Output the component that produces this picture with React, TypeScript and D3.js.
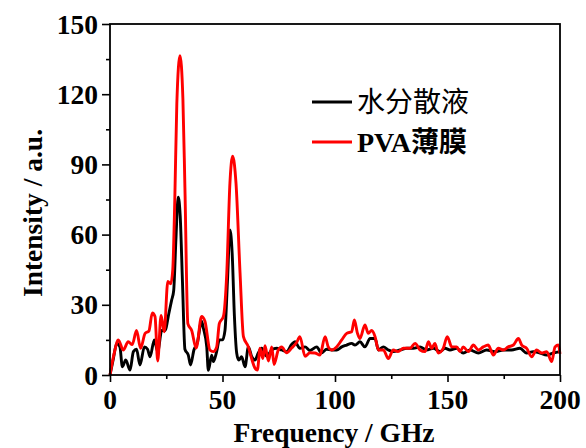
import React, { useEffect, useRef } from 'react'
import * as d3 from 'd3'

// 水分散液 (black)
const waterFreq = [0, 1.5, 3, 4.4, 5.5, 7, 8.9, 10.4, 11.8, 13.3, 15.3, 16.7, 17.8, 19.7, 21.2, 23, 24.4, 26.2, 27.4, 28.3, 29.3, 30.3, 31.2, 32.2, 33.3, 34.8, 35.8, 37.3, 38.8, 40.7, 41.5, 43, 43.7, 45.2, 45.9, 47.4, 48.6, 50, 51.1, 52.2, 53.3, 54.3, 55.3, 56.3, 57.2, 58.5, 60, 61.5, 63, 64.4, 65.9, 67.4, 69.6, 71.9, 74, 76.3, 78.5, 80.7, 82.2, 84.4, 86.7, 88.9, 91.9, 94, 96.3, 98.5, 100.7, 103, 105.2, 107.4, 108.9, 111.1, 113.3, 115.6, 117.8, 119.3, 121.5, 123.7, 125.9, 128.9, 131.9, 134.8, 137.8, 140.7, 143.7, 146.7, 148.9, 151.1, 154.1, 157, 160, 163.7, 167.4, 171.1, 174.8, 178.5, 182.2, 185.2, 188.1, 191.1, 194.1, 197, 200]
const waterInt = [0, 7, 13.5, 12, 3.5, 6.4, 2.1, 10, 11, 4.3, 12, 11, 7.8, 15, 10, 19, 19, 26.5, 32, 36, 58, 76, 68, 40, 11, 8.5, 4.3, 10.7, 13.7, 23, 20, 12, 2, 8.5, 5.7, 10, 15, 15, 19, 40, 62, 52, 25, 9.4, 6.4, 7.8, 3.5, 12, 7.8, 6.4, 9.4, 11.4, 8, 10.7, 11.4, 10.7, 10, 13, 14.2, 11.4, 12, 10.5, 12, 9.4, 11, 10.7, 10.7, 12, 12.8, 13.5, 12.8, 14.2, 12, 15.6, 15.6, 10.7, 12, 10.7, 10, 10.7, 11.4, 11.4, 12, 10.7, 11.4, 10, 11.4, 10.7, 11.4, 9.4, 10.7, 9.4, 10.7, 10, 10.7, 10.7, 11.4, 9.4, 10, 9.4, 8.5, 9.4, 10]

// PVA薄膜 (red)
const pvaFreq = [0, 1.8, 3.7, 5.9, 8.1, 9.9, 11.8, 13.6, 15.6, 17.3, 18.8, 20, 21.2, 22.7, 24.1, 25.7, 27, 27.9, 28.8, 29.7, 31.1, 32.4, 33.3, 34.6, 36.3, 38.3, 40.7, 42.2, 44.4, 45.9, 47.4, 48.6, 50.4, 51.9, 53.3, 54.5, 56, 57.8, 59.3, 61.5, 62.8, 64.4, 65.5, 66.7, 67.9, 68.9, 70.4, 71.9, 72.9, 74.8, 76.3, 78.5, 80.7, 83, 84.4, 86.7, 88.9, 91.1, 93.3, 95.6, 97, 98.5, 100.7, 103, 105.2, 107.4, 108.6, 110, 111.1, 113.3, 114.8, 116.3, 117.8, 119.3, 121.5, 123.7, 125.9, 128, 130.4, 133.3, 135.6, 137.8, 140, 141.5, 143, 144.4, 145.9, 148.1, 149.9, 151.9, 154.1, 155.6, 157, 159.3, 161.5, 163.7, 165.9, 168.1, 170.4, 172.6, 174.8, 177, 179.3, 181.5, 183, 185.2, 187.4, 189.6, 191.9, 194.1, 196.3, 197.8, 199.3, 200]
const pvaInt = [0, 9, 15, 10.7, 14.2, 13, 19, 11.4, 17.8, 18.8, 26.5, 25, 6, 25.5, 18.5, 40, 39, 45, 75, 116, 136.5, 118, 80, 22, 19, 11.5, 25, 23, 10.7, 10, 12, 22, 25, 43.6, 82, 93.5, 82, 43.6, 16.4, 12, 7.5, 3, 2.1, 11.5, 7, 12.5, 6, 12, 4.5, 10.7, 12, 9.5, 11.5, 14, 16.4, 8, 9.5, 9.4, 8.5, 16.4, 12, 10.7, 12, 15, 17.8, 18.5, 23.5, 17.8, 15.6, 21.4, 17.8, 19, 16.4, 10.7, 10.7, 7, 10.7, 10, 11.4, 11.4, 13.5, 10.7, 10, 14.2, 11.4, 13.5, 9.4, 11.4, 16.4, 12, 12, 10, 12, 10, 12.8, 10.7, 12, 12.8, 8.5, 11.4, 10.7, 12, 12.8, 15.6, 12.8, 11.4, 7.8, 10.7, 9.4, 10, 5.7, 12, 12.8, 9]

const xTicks = [0, 50, 100, 150, 200]
const yTicks = [0, 30, 60, 90, 120, 150]

const series = [
    { name: '水分散液', freq: waterFreq, values: waterInt, color: '#000000', bold: false },
    { name: 'PVA薄膜', freq: pvaFreq, values: pvaInt, color: '#ff0000', bold: true },
]

const App = () => {
    const ref = useRef<SVGSVGElement>(null)

    useEffect(() => {
        const width = 586
        const height = 448
        const margin = { top: 24, right: 26, bottom: 73, left: 110 }
        const font = '"Liberation Serif", "Times New Roman", "Noto Sans CJK SC", serif'

        const svg = d3.select(ref.current)
        svg.selectAll('*').remove()
        svg.attr('width', width).attr('height', height)

        const x = d3.scaleLinear().domain([0, 200]).range([margin.left, width - margin.right])
        const y = d3.scaleLinear().domain([0, 150]).range([height - margin.bottom, margin.top])

        // curves
        const line = d3.line<[number, number]>()
            .x(d => x(d[0]))
            .y(d => y(d[1]))
            .curve(d3.curveMonotoneX)

        series.forEach(s => {
            const pts = s.freq.map((f, i) => [f, s.values[i]] as [number, number])
            svg.append('path')
                .datum(pts)
                .attr('fill', 'none')
                .attr('stroke', s.color)
                .attr('stroke-width', 2.9)
                .attr('stroke-linejoin', 'round')
                .attr('d', line)
        })

        // frame
        svg.append('rect')
            .attr('x', x(0))
            .attr('y', y(150))
            .attr('width', x(200) - x(0))
            .attr('height', y(0) - y(150))
            .attr('fill', 'none')
            .attr('stroke', '#000')
            .attr('stroke-width', 1.8)

        // x axis
        const xAxis = svg.append('g')
            .attr('transform', `translate(0, ${y(0)})`)
            .call(d3.axisBottom(x).tickValues(d3.range(0, 201, 25)).tickSize(7).tickFormat(() => ''))
        xAxis.select('.domain').remove()
        xAxis.selectAll('.tick line')
            .attr('stroke-width', 1.6)
            .attr('y2', (d: any) => (d % 50 === 0 ? 7 : 4))

        svg.append('g')
            .selectAll('text')
            .data(xTicks)
            .join('text')
            .attr('x', d => x(d))
            .attr('y', 409)
            .attr('text-anchor', 'middle')
            .attr('font-family', font)
            .attr('font-weight', 'bold')
            .attr('font-size', 27.5)
            .text(d => d)

        // y axis
        const yAxis = svg.append('g')
            .attr('transform', `translate(${x(0)}, 0)`)
            .call(d3.axisLeft(y).tickValues(d3.range(0, 151, 15)).tickSize(8).tickFormat(() => ''))
        yAxis.select('.domain').remove()
        yAxis.selectAll('.tick line')
            .attr('stroke-width', 1.6)
            .attr('x2', (d: any) => (d % 30 === 0 ? -8 : -4))

        svg.append('g')
            .selectAll('text')
            .data(yTicks)
            .join('text')
            .attr('x', 98)
            .attr('y', d => y(d))
            .attr('dy', '0.35em')
            .attr('text-anchor', 'end')
            .attr('font-family', font)
            .attr('font-weight', 'bold')
            .attr('font-size', 27.5)
            .text(d => d)

        // axis titles
        svg.append('text')
            .attr('x', 334)
            .attr('y', 442)
            .attr('text-anchor', 'middle')
            .attr('font-family', font)
            .attr('font-weight', 'bold')
            .attr('font-size', 27.5)
            .text('Frequency / GHz')

        svg.append('text')
            .attr('transform', `translate(42, ${213}) rotate(-90)`)
            .attr('text-anchor', 'middle')
            .attr('font-family', font)
            .attr('font-weight', 'bold')
            .attr('font-size', 27.5)
            .text('Intensity / a.u.')

        // legend
        const legend = svg.append('g')
        series.forEach((s, i) => {
            const ly = 102 + i * 40
            legend.append('line')
                .attr('x1', 312)
                .attr('x2', 352)
                .attr('y1', ly)
                .attr('y2', ly)
                .attr('stroke', s.color)
                .attr('stroke-width', 2.9)
            legend.append('text')
                .attr('x', 357)
                .attr('y', ly)
                .attr('dy', '0.35em')
                .attr('font-family', font)
                .attr('font-weight', s.bold ? 'bold' : 'normal')
                .attr('font-size', 28)
                .text(s.name)
        })
    }, [])

    return (
        <div style={{ position: 'absolute', left: 0, top: 0, background: '#fff' }}>
            <svg ref={ref} style={{ display: 'block' }} />
        </div>
    )
}

export default App
